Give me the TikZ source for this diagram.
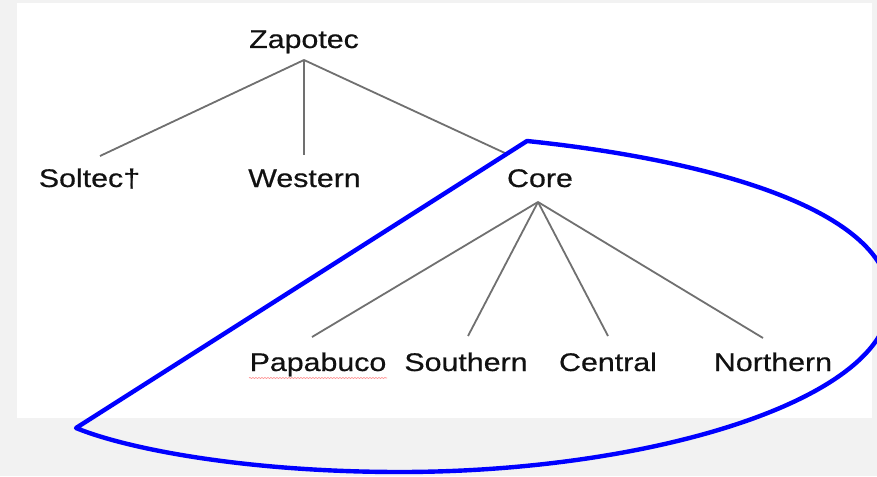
\documentclass[tikz,border=0pt]{standalone}
\usepackage{fontspec}
\usetikzlibrary{decorations.pathmorphing}
\newfontfamily\treefont{Liberation Sans}[FakeStretch=1.19, FakeBold=0.5]
\definecolor{pagegray}{HTML}{F2F2F2}
\definecolor{branchgray}{HTML}{707070}
\definecolor{inkblack}{HTML}{111111}
\tikzset{
  lang/.style={anchor=base, inner sep=0pt, text=inkblack, font=\treefont\fontsize{25.5}{30}\selectfont},
  branch/.style={draw=branchgray, line width=1.8pt},
  loop/.style={draw=blue, line width=4.4pt, line join=round, line cap=round}
}
\begin{document}
\begin{tikzpicture}[x=1pt, y=-1pt]
  % canvas
  \fill[pagegray] (0,0) rectangle (877,476);
  \useasboundingbox (0,0) rectangle (877,476);
  \fill[white] (17,3) rectangle (872,418);

  % labels
  \node[lang] (zapotec)  at (304,48)   {Zapotec};
  \node[lang] (soltec)   at (89.5,187) {Soltec†};
  \node[lang] (western)  at (304.5,187){Western};
  \node[lang] (core)     at (540,187)  {Core};
  \node[lang] (papabuco) at (318,371)  {Papabuco};
  \node[lang] (southern) at (466,371)  {Southern};
  \node[lang] (central)  at (608,371)  {Central};
  \node[lang] (northern) at (773,371)  {Northern};

  % branch end points
  \coordinate (zapotec-root) at (304,60);
  \coordinate (soltec-top)   at (100,156);
  \coordinate (western-top)  at (304,155);
  \coordinate (core-top)     at (507,154);
  \coordinate (core-root)    at (538,202);
  \coordinate (papabuco-top) at (312,337);
  \coordinate (southern-top) at (468,336);
  \coordinate (central-top)  at (608,336);
  \coordinate (northern-top) at (763,338);

  % tree branches
  \draw[branch] (zapotec-root) -- (soltec-top);
  \draw[branch] (zapotec-root) -- (western-top);
  \draw[branch] (zapotec-root) -- (core-top);
  \draw[branch] (core-root) -- (papabuco-top);
  \draw[branch] (core-root) -- (southern-top);
  \draw[branch] (core-root) -- (central-top);
  \draw[branch] (core-root) -- (northern-top);

  % spell-check squiggle under Papabuco
  \draw[red!45, line width=0.6pt, decorate,
        decoration={snake, amplitude=0.6pt, segment length=3pt}]
    (249,378) -- (387,378);

  % hand-drawn loop around the Core subgroup
  \coordinate (loop-tip)   at (76,428);
  \coordinate (loop-peak)  at (527,141);
  \coordinate (loop-right) at (890,300);
  \coordinate (loop-low)   at (400,472);
  \draw[loop] (loop-tip) -- (loop-peak)
    .. controls (710,160) and (890,210) .. (loop-right)
    .. controls (890,400) and (650,472) .. (loop-low)
    .. controls (250,472) and (130,450) .. (loop-tip) -- cycle;
\end{tikzpicture}
\end{document}
